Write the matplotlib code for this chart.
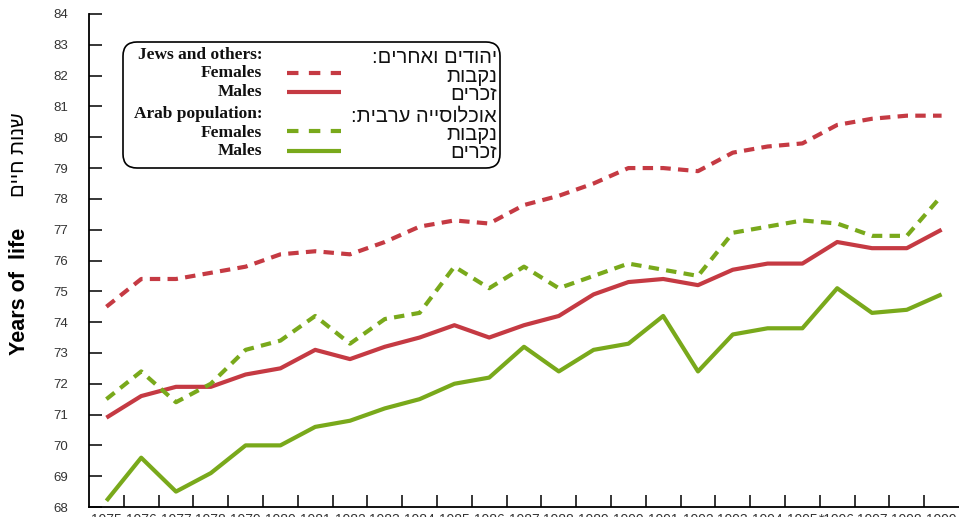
import matplotlib
matplotlib.use('Agg')
import matplotlib.pyplot as plt
from matplotlib.lines import Line2D
from matplotlib.patches import FancyBboxPatch

plt.rcParams['font.family'] = ['Liberation Sans', 'DejaVu Sans']

# Life expectancy data
years = list(range(1975, 2000))
year_labels = [str(y) for y in years]
year_labels[years.index(1996)] = '*1996'

jews_females = [74.5, 75.4, 75.4, 75.6, 75.8, 76.2, 76.3, 76.2, 76.6, 77.1,
                77.3, 77.2, 77.8, 78.1, 78.5, 79.0, 79.0, 78.9, 79.5, 79.7,
                79.8, 80.4, 80.6, 80.7, 80.7]
jews_males = [70.9, 71.6, 71.9, 71.9, 72.3, 72.5, 73.1, 72.8, 73.2, 73.5,
              73.9, 73.5, 73.9, 74.2, 74.9, 75.3, 75.4, 75.2, 75.7, 75.9,
              75.9, 76.6, 76.4, 76.4, 77.0]
arab_females = [71.5, 72.4, 71.4, 72.0, 73.1, 73.4, 74.2, 73.3, 74.1, 74.3,
                75.8, 75.1, 75.8, 75.1, 75.5, 75.9, 75.7, 75.5, 76.9, 77.1,
                77.3, 77.2, 76.8, 76.8, 78.1]
arab_males = [68.2, 69.6, 68.5, 69.1, 70.0, 70.0, 70.6, 70.8, 71.2, 71.5,
              72.0, 72.2, 73.2, 72.4, 73.1, 73.3, 74.2, 72.4, 73.6, 73.8,
              73.8, 75.1, 74.3, 74.4, 74.9]


def rtl(s):
    # matplotlib has no bidi support, so hebrew is written in visual order
    return s[::-1]


red = '#c53a43'
green = '#79a91b'
lw = 3.0
dash = (0, (2.5, 1.75))

W, H = 959, 517
fig = plt.figure(figsize=(W / 100, H / 100), dpi=100)
ax = fig.add_axes([89 / W, 10 / H, (W - 89) / W, 493 / H])

ax.plot(years, jews_females, color=red, lw=lw, ls=dash, dash_capstyle='butt')
ax.plot(years, jews_males, color=red, lw=lw, solid_capstyle='butt')
ax.plot(years, arab_females, color=green, lw=lw, ls=dash, dash_capstyle='butt')
ax.plot(years, arab_males, color=green, lw=lw, solid_capstyle='butt')

ax.set_xlim(1974.5, 1999.5)
ax.set_ylim(68, 84)
ax.set_yticks(range(68, 85))
ax.set_xticks(years)
ax.set_xticklabels(year_labels)
ax.set_xticks([y + 0.5 for y in years[:-1]], minor=True)

for s in ['top', 'right']:
    ax.spines[s].set_visible(False)
for s in ['left', 'bottom']:
    ax.spines[s].set_linewidth(1.3)

ax.tick_params(axis='y', direction='in', length=9, width=1.1, pad=15,
               labelsize=9.5, labelcolor='#333333')
ax.tick_params(axis='x', which='major', length=0, pad=4, labelsize=10,
               labelcolor='#333333')
ax.tick_params(axis='x', which='minor', direction='in', length=9, width=1.1)

# y axis title, english and hebrew
fig.text(20 / W, 1 - 291 / H, 'Years of  life', rotation=90, ha='center', va='center',
         fontsize=15.5, fontweight='bold')
fig.text(19 / W, 1 - 155 / H, rtl('שנות חיים'), rotation=90, ha='center', va='center',
         fontsize=14.5)

# legend box drawn by hand, positions in pixels
tr = fig.dpi_scale_trans


def px(x, y):
    return x / 100, (H - y) / 100


box = FancyBboxPatch(px(123, 168), 3.77, 1.26, boxstyle='round,pad=0,rounding_size=0.14',
                     transform=tr, fc='white', ec='black', lw=1.2)
fig.add_artist(box)

eng = ['Jews and others:', 'Females', 'Males', 'Arab population:', 'Females', 'Males']
eng_y = [55, 73, 92, 114, 133, 151]
heb = ['יהודים ואחרים:', 'נקבות', 'זכרים', 'אוכלוסייה ערבית:', 'נקבות', 'זכרים']
heb_y = [57, 76, 95, 116, 134, 153]

for t, y in zip(eng, eng_y):
    fig.text(*px(262, y), t, transform=tr, ha='right', va='center', fontsize=12.5,
             fontweight='bold', family=['Liberation Serif', 'DejaVu Serif'], color='#111111')
for t, y in zip(heb, heb_y):
    fig.text(*px(497, y), rtl(t), transform=tr, ha='right', va='center', fontsize=14.5,
             color='#111111')

samples = [(73, red, True), (92, red, False), (131, green, True), (151, green, False)]
for y, c, dashed in samples:
    x0, yy = px(287, y)
    x1, _ = px(341, y)
    ln = Line2D([x0, x1], [yy, yy], transform=tr, color=c, lw=lw,
                ls=(0, (2.75, 2.5)) if dashed else '-', dash_capstyle='butt',
                solid_capstyle='butt')
    fig.add_artist(ln)

fig.savefig('out.png', dpi=100)
